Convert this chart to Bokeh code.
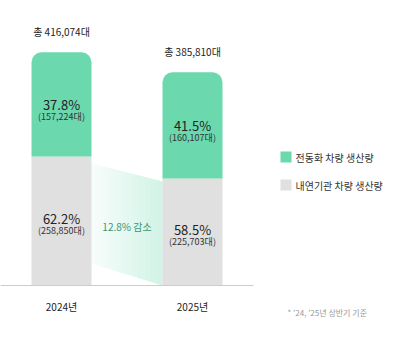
from bokeh.plotting import figure
from bokeh.models import Range1d, ColumnDataSource
from bokeh.embed import file_html
from bokeh.resources import INLINE
from bokeh.core.properties import value

# ---------------- data ----------------
years = ["2024년", "2025년"]
totals = [416074, 385810]
ev_units = [157224, 160107]
ice_units = [258850, 225703]
ev_pct = ["37.8%", "41.5%"]
ice_pct = ["62.2%", "58.5%"]
total_labels = ["총 416,074대", "총 385,810대"]
ev_labels = ["(157,224대)", "(160,107대)"]
ice_labels = ["(258,850대)", "(225,703대)"]
legend_labels = ["전동화 차량 생산량", "내연기관 차량 생산량"]
change_label = "12.8% 감소"
footnote = "* '24, '25년 상반기 기준"
Y_MIN = 64500  # value axis is truncated at this value

# ---------------- layout / style ----------------
W, H = 408, 355
FONT = "Noto Sans CJK KR"
GREEN = "#6bd8ae"
GREEN_RGB = (107, 216, 174)
GRAY = "#e0e0e0"
U = 1507.0          # value units per pixel
XSTEP = 131.0       # pixels between category centres
X0PX = 61.0         # pixel of first category centre
BASE_PX = 70        # baseline distance from canvas bottom


def dx(px):
    return px / XSTEP


def dy(px):
    return px * U


xs = list(range(len(years)))

p = figure(width=W, height=H, output_backend="svg", toolbar_location=None,
           x_range=Range1d(-X0PX / XSTEP, (W - X0PX) / XSTEP),
           y_range=Range1d(Y_MIN - dy(BASE_PX), Y_MIN + dy(H - BASE_PX)),
           min_border=0, outline_line_color=None)
p.axis.visible = False
p.grid.visible = False
p.background_fill_color = "white"
p.border_fill_color = "white"

src = ColumnDataSource(dict(x=xs, total=totals, ev=ev_units, ice=ice_units,
                            base=[Y_MIN] * len(xs)))

bw = dx(60)

# gradient connector between the two combustion-engine bars
xl, xr = dx(30), 1 - dx(30)
tl, tr = ice_units[0] - dy(7), ice_units[1] - dy(3)
bl, br = Y_MIN + (ice_units[0] - ice_units[1]), Y_MIN


def lerp(a, b, t):
    return a + (b - a) * t


def tint(a):
    r, g, b = (int(round(255 - a * (255 - c))) for c in GREEN_RGB)
    return "#%02x%02x%02x" % (r, g, b)


N = 36
pxs, pys, cols = [], [], []
for k in range(N):
    t0 = k / N
    t1 = min(1.0, (k + 1.6) / N)
    x0, x1 = lerp(xl, xr, t0), lerp(xl, xr, t1)
    pxs.append([x0, x1, x1, x0])
    pys.append([lerp(tl, tr, t0), lerp(tl, tr, t1), lerp(bl, br, t1), lerp(bl, br, t0)])
    cols.append(tint(0.05 + 0.26 * (k + 0.5) / N))
p.patches(pxs, pys, fill_color=cols, line_color=None)

# bars
p.vbar(x="x", width=bw, bottom="base", top="ice", source=src,
       fill_color=GRAY, line_color=None)
p.vbar(x="x", width=bw, bottom="ice", top="total", source=src,
       fill_color=GREEN, line_color=None, border_radius=(10, 10, 0, 0))

# baseline
p.segment(x0=[-X0PX / XSTEP], x1=[dx(253 - X0PX)], y0=[Y_MIN], y1=[Y_MIN],
          line_color="#cccccc", line_width=1)

common = dict(text_align="center", text_baseline="middle", text_font=value(FONT))

ev_mid = [(a + b) / 2 for a, b in zip(ice_units, totals)]
ice_mid = [(Y_MIN + a) / 2 for a in ice_units]

p.text(x=xs, y=ev_mid, text=ev_pct, text_font_size="13px", text_color="#222222", **common)
p.text(x=xs, y=[v - dy(12) for v in ev_mid], text=ev_labels, text_font_size="9px",
       text_color="#333333", **common)
p.text(x=xs, y=[v + dy(3) for v in ice_mid], text=ice_pct, text_font_size="13px",
       text_color="#222222", **common)
p.text(x=xs, y=[v - dy(9) for v in ice_mid], text=ice_labels, text_font_size="9px",
       text_color="#333333", **common)

p.text(x=xs, y=[t + dy(21) for t in totals], text=total_labels, text_font_size="10px",
       text_color="#222222", **common)
p.text(x=xs, y=[Y_MIN - dy(21)] * len(xs), text=years, text_font_size="10px",
       text_color="#222222", **common)

p.text(x=[0.5], y=[Y_MIN + dy(59)], text=[change_label], text_font_size="10px",
       text_color="#3a9574", **common)

# legend
lx = dx(285.5 - X0PX)
ly = [Y_MIN + dy(285 - 156.5), Y_MIN + dy(285 - 184.5)]
p.rect(x=[lx, lx], y=ly, width=dx(11), height=dy(11), fill_color=[GREEN, GRAY],
       line_color=None)
p.text(x=[dx(295 - X0PX)] * 2, y=ly, text=legend_labels, text_align="left",
       text_baseline="middle", text_font=value(FONT), text_font_size="10px",
       text_color="#333333")

# footnote
p.text(x=[dx(287 - X0PX)], y=[Y_MIN - dy(312 - 285)], text=[footnote], text_align="left",
       text_baseline="middle", text_font=value(FONT), text_font_size="8px",
       text_color="#999999")

open("out.html", "w").write(file_html(p, INLINE))
